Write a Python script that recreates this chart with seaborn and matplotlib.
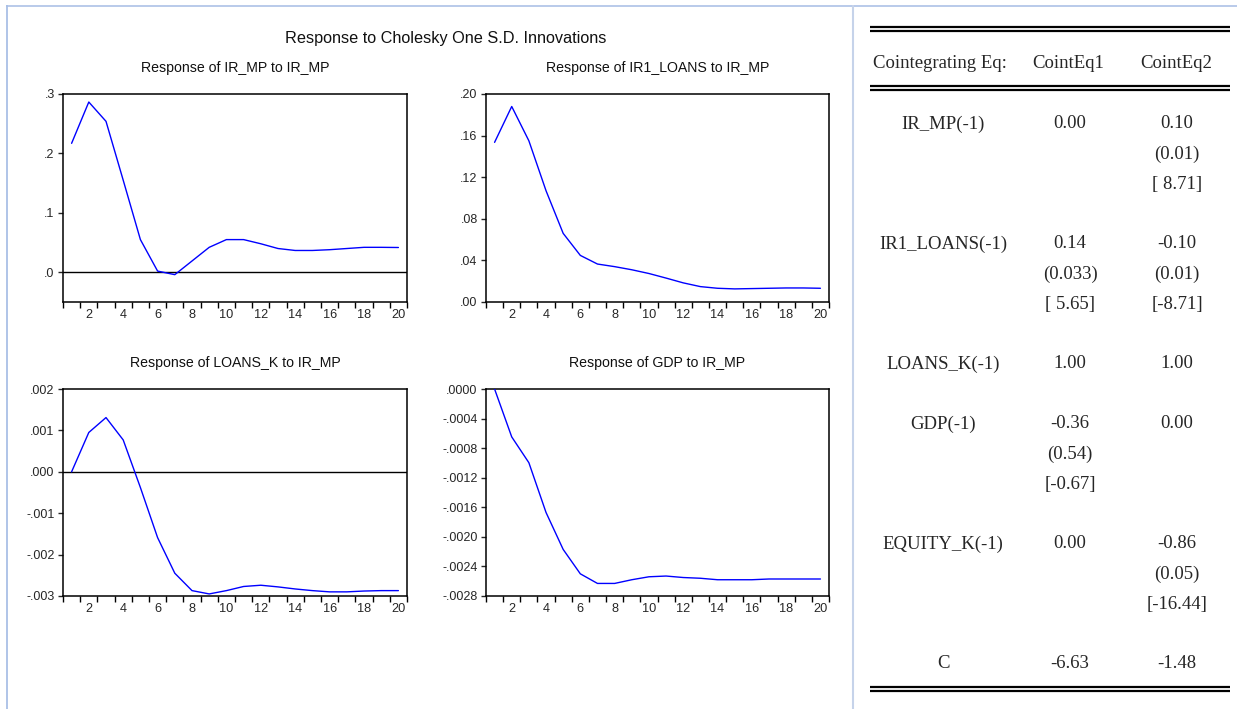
import numpy as np
import pandas as pd
import matplotlib
matplotlib.use("Agg")
import matplotlib.pyplot as plt
import seaborn as sns

# ---------------- data ----------------
periods = list(range(1, 21))

resp_irmp = [0.217, 0.2865, 0.254, 0.155, 0.055, 0.002, -0.004, 0.019, 0.042, 0.055,
             0.055, 0.048, 0.040, 0.0367, 0.0367, 0.038, 0.040, 0.042, 0.042, 0.0417]
resp_ir1loans = [0.1535, 0.188, 0.155, 0.107, 0.066, 0.0448, 0.0365, 0.034, 0.031, 0.0274,
                 0.023, 0.0184, 0.0148, 0.0132, 0.0126, 0.0129, 0.0132, 0.0135, 0.0135, 0.0132]
resp_loansk = [0.0, 0.00095, 0.00131, 0.00077, -0.00038, -0.00159, -0.00245, -0.00287, -0.00295, -0.00287,
               -0.00277, -0.00274, -0.00278, -0.00283, -0.00287, -0.0029, -0.0029, -0.00288, -0.00287, -0.00287]
resp_gdp = [0.0, -0.000648, -0.000997, -0.00167, -0.00217, -0.00250, -0.00263, -0.00263, -0.00258, -0.00254,
            -0.00253, -0.00255, -0.00256, -0.00258, -0.00258, -0.00258, -0.00257, -0.00257, -0.00257, -0.00257]

panel_titles = ["Response of IR_MP to IR_MP", "Response of IR1_LOANS to IR_MP",
                "Response of LOANS_K to IR_MP", "Response of GDP to IR_MP"]
main_title = "Response to Cholesky One S.D. Innovations"

yticks_irmp = [0.0, 0.1, 0.2, 0.3]
ylabels_irmp = [".0", ".1", ".2", ".3"]
yticks_ir1loans = [0.0, 0.04, 0.08, 0.12, 0.16, 0.20]
ylabels_ir1loans = [".00", ".04", ".08", ".12", ".16", ".20"]
yticks_loansk = [-0.003, -0.002, -0.001, 0.0, 0.001, 0.002]
ylabels_loansk = ["-.003", "-.002", "-.001", ".000", ".001", ".002"]
yticks_gdp = [-0.0028, -0.0024, -0.0020, -0.0016, -0.0012, -0.0008, -0.0004, 0.0]
ylabels_gdp = ["-.0028", "-.0024", "-.0020", "-.0016", "-.0012", "-.0008", "-.0004", ".0000"]
xtick_labels = [str(v) for v in range(2, 21, 2)]

table_header = ["Cointegrating Eq:", "CointEq1", "CointEq2"]
table_labels = ["IR_MP(-1)", "", "", "", "IR1_LOANS(-1)", "", "", "", "LOANS_K(-1)", "",
                "GDP(-1)", "", "", "", "EQUITY_K(-1)", "", "", "", "C"]
table_col1 = ["0.00", "", "", "", "0.14", "(0.033)", "[ 5.65]", "", "1.00", "",
              "-0.36", "(0.54)", "[-0.67]", "", "0.00", "", "", "", "-6.63"]
table_col2 = ["0.10", "(0.01)", "[ 8.71]", "", "-0.10", "(0.01)", "[-8.71]", "", "1.00", "",
              "0.00", "", "", "", "-0.86", "(0.05)", "[-16.44]", "", "-1.48"]

# ---------------- style ----------------
sns.set_style("ticks")
plt.rcParams['font.family'] = ['Liberation Sans', 'DejaVu Sans']

W, H = 1237, 709
fig = plt.figure(figsize=(W / 100, H / 100), dpi=100)


def rect(x0, y0, x1, y1):
    return [x0 / W, 1 - y1 / H, (x1 - x0) / W, (y1 - y0) / H]


# overlay axes in pixel coordinates for frame, titles and table
ov = fig.add_axes([0, 0, 1, 1])
ov.set_xlim(0, W)
ov.set_ylim(H, 0)
ov.axis("off")
ov.set_zorder(-1)

# frame lines
ov.plot([6, W], [5.5, 5.5], color="#b3c6e8", lw=1.3, solid_capstyle="butt")
ov.plot([6.5, 6.5], [5, H], color="#a9bfe6", lw=1.3, solid_capstyle="butt")
ov.plot([853, 853], [5, H], color="#c6d3ea", lw=1.5, solid_capstyle="butt")

ov.text(446, 38, main_title, ha="center", va="center", fontsize=11.7, color="#111111")

positions = [(63, 94, 407, 302), (486, 94, 829, 302), (63, 389, 407, 596), (486, 389, 829, 596)]
series = [resp_irmp, resp_ir1loans, resp_loansk, resp_gdp]
ylims = [(-0.05, 0.3), (0.0, 0.2), (-0.003, 0.002), (-0.0028, 0.0)]
yt = [yticks_irmp, yticks_ir1loans, yticks_loansk, yticks_gdp]
yl = [ylabels_irmp, ylabels_ir1loans, ylabels_loansk, ylabels_gdp]
zero_line = [True, False, True, False]

for i, (pos, vals) in enumerate(zip(positions, series)):
    x0, y0, x1, y1 = pos
    ax = fig.add_axes(rect(x0, y0, x1, y1))
    df = pd.DataFrame({"period": periods, "value": vals})
    if zero_line[i]:
        ax.axhline(0, color="black", lw=1.0, zorder=1)
    sns.lineplot(data=df, x="period", y="value", ax=ax, color="#0000ff", lw=1.0, zorder=3)
    ax.set_xlim(0.5, 20.5)
    ax.set_ylim(*ylims[i])
    ax.set_xlabel("")
    ax.set_ylabel("")
    # x ticks: marks at period boundaries, labels at even periods
    ax.set_xticks(np.arange(0.5, 21, 1.0))
    ax.set_xticklabels([])
    ax.set_xticks(range(2, 21, 2), minor=True)
    ax.set_xticklabels(xtick_labels, minor=True)
    ax.tick_params(axis="x", which="major", direction="out", length=4.5, width=1.0, color="black")
    ax.tick_params(axis="x", which="minor", length=0, pad=5, labelsize=9.2)
    ax.set_yticks(yt[i])
    ax.set_yticklabels(yl[i])
    ax.tick_params(axis="y", direction="out", length=3.5, width=1.0, pad=2.5, labelsize=9)
    for s in ax.spines.values():
        s.set_visible(True)
        s.set_color("black")
        s.set_linewidth(1.1)
    ov.text((x0 + x1) / 2, y0 - 26, panel_titles[i], ha="center", va="center", fontsize=10.2,
            color="#111111")

# ---------------- table ----------------
serif = ["Liberation Serif", "DejaVu Serif"]
tx0, tx1 = 870, 1230
for yy in (27, 31, 86, 90, 687, 691):
    ov.plot([tx0, tx1], [yy, yy], color="black", lw=1.6, solid_capstyle="butt")

col_x = [943, 1070, 1177]
ov.text(940, 64, table_header[0], ha="center", va="center", fontsize=13.5, family=serif)
ov.text(1068, 64, table_header[1], ha="center", va="center", fontsize=13.5, family=serif)
ov.text(1176, 64, table_header[2], ha="center", va="center", fontsize=13.5, family=serif)

for k, (a, b, c) in enumerate(zip(table_labels, table_col1, table_col2)):
    yy = 124 + 30 * k
    for xx, t in zip(col_x, (a, b, c)):
        if t:
            ov.text(xx, yy, t, ha="center", va="center", fontsize=13.5, family=serif)

fig.savefig("out.png", dpi=100)
